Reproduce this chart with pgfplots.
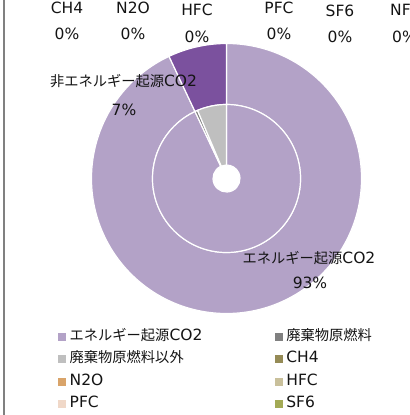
\documentclass[border=0pt]{standalone}
\usepackage{pgfplots}
\pgfplotsset{compat=1.18}
\usepackage{pgfplotstable}
\usepackage{fontspec}
\setmainfont{DejaVu Sans}
\newfontfamily\cjk[Scale=0.92]{Noto Sans CJK JP}

\definecolor{cE}{RGB}{179,162,199}
\definecolor{cN}{RGB}{123,81,158}
\definecolor{cW}{RGB}{128,128,128}
\definecolor{cWo}{RGB}{191,191,191}
\definecolor{cCH4}{RGB}{149,139,86}
\definecolor{cN2O}{RGB}{217,164,106}
\definecolor{cHFC}{RGB}{201,192,155}
\definecolor{cPFC}{RGB}{240,216,200}
\definecolor{cSF6}{RGB}{163,170,85}
\definecolor{cNF3}{RGB}{120,150,190}
\definecolor{txt}{RGB}{20,20,20}

% outer ring: gas totals (%), clockwise from 12 o'clock
\pgfplotstableread{
name value col
ECO2 93.0 cE
NECO2 7.0 cN
CH4 0 cCH4
N2O 0 cN2O
HFC 0 cHFC
PFC 0 cPFC
SF6 0 cSF6
NF3 0 cNF3
}\outerdata

% inner ring: breakdown (%)
\pgfplotstableread{
name value col
ECO2 93.0 cE
Waste 0.6 cW
NonWaste 6.4 cWo
CH4 0 cCH4
N2O 0 cN2O
HFC 0 cHFC
PFC 0 cPFC
SF6 0 cSF6
NF3 0 cNF3
}\innerdata

\newcommand{\drawring}[3]{%
  \pgfplotstablegetrowsof{#1}%
  \pgfmathtruncatemacro{\nrows}{\pgfplotsretval-1}%
  \gdef\cum{0}%
  \foreach \i in {0,...,\nrows}{%
    \pgfplotstablegetelem{\i}{value}\of{#1}\let\v\pgfplotsretval
    \pgfplotstablegetelem{\i}{col}\of{#1}\let\c\pgfplotsretval
    \pgfmathsetmacro{\aa}{90-3.6*\cum}%
    \pgfmathsetmacro{\ab}{90-3.6*(\cum+\v)}%
    \ifdim\v pt>0pt
      \filldraw[fill=\c, draw=white, line width=1.2bp, shift={(axis cs:226.5,178.5)}]
        (\aa:#3) arc[start angle=\aa, end angle=\ab, radius=#3]
        -- (\ab:#2) arc[start angle=\ab, end angle=\aa, radius=#2] -- cycle;
    \fi
    \pgfmathsetmacro{\newcum}{\cum+\v}\xdef\cum{\newcum}%
  }%
}

\pgfplotsset{sq/.style={legend image code/.code={\fill[##1] (0bp,-4bp) rectangle (8bp,4bp);}}}

\begin{document}
\begin{tikzpicture}[font=\fontsize{15.5bp}{18bp}\selectfont, every node/.append style={text=txt}]
\begin{axis}[
  scale only axis, width=410bp, height=415bp,
  xmin=0, xmax=410, ymin=0, ymax=415, y dir=reverse,
  hide axis, clip=false,
  legend columns=2,
  legend cell align=left,
  legend style={at={(axis cs:55,326)}, anchor=north west, draw=none, fill=none,
    font=\fontsize{15.5bp}{18bp}\selectfont,
    nodes={inner sep=1bp, text height=11bp, text depth=4bp},
    row sep=5.5bp,
    /tikz/every odd column/.append style={column sep=2.5bp},
    /tikz/every even column/.append style={column sep=71.5bp}},
]
\pgfplotsextra{\drawring{\outerdata}{74bp}{135bp}}
\pgfplotsextra{\drawring{\innerdata}{13.5bp}{74bp}}

\addlegendimage{sq, fill=cE, draw=none}\addlegendentry{{\cjk エネルギー起源}CO2}
\addlegendimage{sq, fill=cW, draw=none}\addlegendentry{{\cjk 廃棄物原燃料}}
\addlegendimage{sq, fill=cWo, draw=none}\addlegendentry{{\cjk 廃棄物原燃料以外}}
\addlegendimage{sq, fill=cCH4, draw=none}\addlegendentry{CH4}
\addlegendimage{sq, fill=cN2O, draw=none}\addlegendentry{N2O}
\addlegendimage{sq, fill=cHFC, draw=none}\addlegendentry{HFC}
\addlegendimage{sq, fill=cPFC, draw=none}\addlegendentry{PFC}
\addlegendimage{sq, fill=cSF6, draw=none}\addlegendentry{SF6}

\draw[color={rgb,255:red,128;green,128;blue,128}, line width=2bp] (axis cs:3.7,0) -- (axis cs:3.7,415);

\node[anchor=base, inner sep=0] at (axis cs:67,14) {CH4};
\node[anchor=base, inner sep=0] at (axis cs:67,40) {0\%};
\node[anchor=base, inner sep=0] at (axis cs:133,13.5) {N2O};
\node[anchor=base, inner sep=0] at (axis cs:133,40) {0\%};
\node[anchor=base, inner sep=0] at (axis cs:197,16) {HFC};
\node[anchor=base, inner sep=0] at (axis cs:197,42.5) {0\%};
\node[anchor=base, inner sep=0] at (axis cs:279,13.5) {PFC};
\node[anchor=base, inner sep=0] at (axis cs:279,40) {0\%};
\node[anchor=base, inner sep=0] at (axis cs:340,16.5) {SF6};
\node[anchor=base, inner sep=0] at (axis cs:340,42.5) {0\%};
\node[anchor=base west, inner sep=0] at (axis cs:390,16) {NF3};
\node[anchor=base west, inner sep=0] at (axis cs:392,42.5) {0\%};
\node[anchor=base, inner sep=0] at (axis cs:123.5,87) {{\cjk 非エネルギー起源}CO2};
\node[anchor=base, inner sep=0] at (axis cs:124,115) {7\%};
\node[anchor=base, inner sep=0] at (axis cs:309,263) {{\cjk エネルギー起源}CO2};
\node[anchor=base, inner sep=0] at (axis cs:310,288) {93\%};
\end{axis}
\pgfresetboundingbox
\useasboundingbox (current axis.south west) rectangle (current axis.north east);
\end{tikzpicture}
\end{document}
